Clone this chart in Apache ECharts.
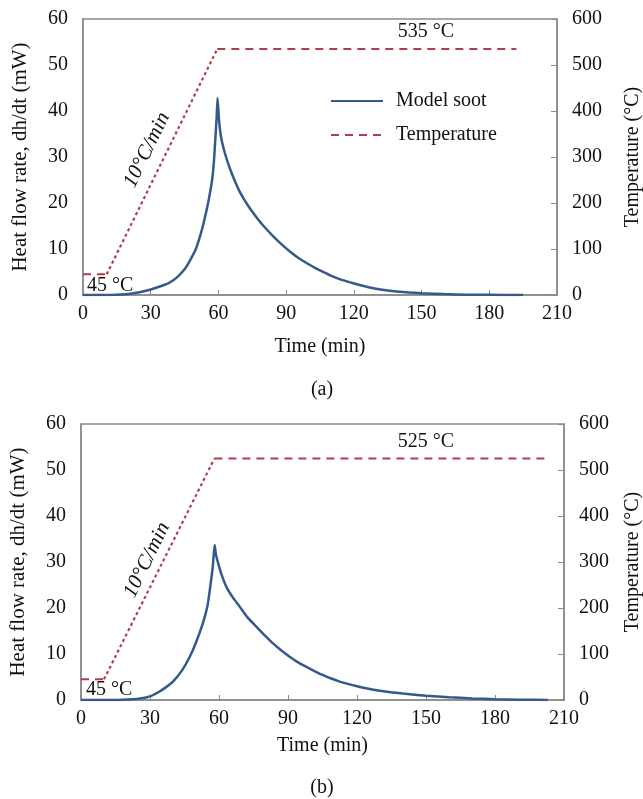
<!DOCTYPE html>
<html>
<head>
<meta charset="utf-8">
<script src="https://cdn.jsdelivr.net/npm/echarts@6/dist/echarts.min.js"></script>
<style>
  html, body { margin: 0; padding: 0; background: #fff; overflow: hidden; }
  #chart { width: 643px; height: 799px; }
</style>
</head>
<body>
<div id="chart"></div>
<script>
// (a) model soot heat flow
const sootTimeA = [0, 10, 15, 20, 25, 30, 35, 38, 40, 42, 45, 47.5, 50, 52, 53.4, 55, 56, 57.2, 58, 58.6, 59.2, 59.6, 60.2, 60.8, 61.5, 63, 65, 67, 69.6, 73, 77, 80, 84.4, 88, 91.8, 95, 99.2, 103, 106.6, 110, 114, 118, 121.4, 126, 131.8, 140, 150, 160, 170, 180, 190, 195]
const sootA = [0, 0, 0.05, 0.2, 0.6, 1.2, 2.0, 2.6, 3.2, 4.0, 5.6, 7.6, 10, 13, 15.6, 19, 21.5, 25, 29, 33.7, 38.5, 42.8, 38.5, 35.5, 33.5, 30.6, 27.6, 25.1, 22.3, 19.5, 16.8, 15.0, 12.7, 11.0, 9.4, 8.2, 6.9, 5.85, 4.95, 4.15, 3.4, 2.8, 2.33, 1.75, 1.2, 0.72, 0.4, 0.2, 0.08, 0.03, 0, 0]
// temperature programme: hold, ramp, hold
const holdTimeA = [0, 10.5]
const holdA = [45, 45]
const rampTimeA = [10.5, 59.5]
const rampA = [45, 535]
const topTimeA = [59.5, 192]
const topA = [535, 535]

// (b)
const sootTimeB = [0, 15, 20, 25, 30, 34, 37, 40, 44, 47.3, 50, 53, 55, 56, 57.3, 58.1, 58.7, 59.6, 61, 63.2, 66, 69, 72.5, 76.3, 80, 83.5, 87, 90.7, 94, 98, 101.5, 105, 108.5, 112.5, 116, 120, 125, 130, 140, 150, 160, 170, 180, 190, 203]
const sootB = [0, 0, 0.1, 0.25, 0.8, 1.8, 2.8, 4.0, 6.5, 9.4, 12.5, 16.7, 20.5, 23.9, 29, 33.7, 31.5, 29.8, 27.4, 24.6, 22.3, 20.3, 17.9, 15.9, 14, 12.3, 10.8, 9.4, 8.3, 7.2, 6.3, 5.45, 4.72, 4.0, 3.5, 3.0, 2.45, 2.0, 1.4, 0.95, 0.6, 0.35, 0.18, 0.08, 0]
const holdTimeB = [0, 10]
const holdB = [45, 45]
const rampTimeB = [10, 58]
const rampB = [45, 525]
const topTimeB = [58, 202]
const topB = [525, 525]

const font = 'Liberation Serif, Times New Roman, serif'
const blue = '#36598b'
const red = '#b23d4a'
const frame = '#8a8a8a'

const pairs = (xs, ys) => xs.map((x, i) => [x, ys[i]])

const chart = echarts.init(document.getElementById('chart'), null, { renderer: 'canvas' })

function xAxis(idx, gap) {
  return {
    gridIndex: idx, type: 'value', min: 0, max: 210, interval: 30,
    name: 'Time (min)', nameLocation: 'middle', nameGap: gap,
    nameTextStyle: { fontFamily: font, fontSize: 20, color: '#111' },
    axisLine: { lineStyle: { color: frame, width: 1.5 } },
    axisTick: { inside: true, length: 5, lineStyle: { color: frame } },
    axisLabel: { fontFamily: font, fontSize: 20, color: '#111', margin: 9 },
    splitLine: { show: false }
  }
}
function leftAxis(idx, gap) {
  return {
    gridIndex: idx, type: 'value', min: 0, max: 60, interval: 10,
    name: 'Heat flow rate, dh/dt (mW)', nameLocation: 'middle', nameGap: gap, nameRotate: 90,
    nameTextStyle: { fontFamily: font, fontSize: 21, color: '#111' },
    axisLine: { show: true, lineStyle: { color: frame, width: 1.5 } },
    axisTick: { show: false },
    axisLabel: { fontFamily: font, fontSize: 20, color: '#111', margin: 15 },
    splitLine: { show: false }
  }
}
function rightAxis(idx, gap) {
  return {
    gridIndex: idx, type: 'value', position: 'right', min: 0, max: 600, interval: 100,
    name: 'Temperature (°C)', nameLocation: 'middle', nameGap: gap, nameRotate: 90,
    nameTextStyle: { fontFamily: font, fontSize: 20, color: '#111' },
    axisLine: { show: true, lineStyle: { color: frame, width: 1.5 } },
    axisTick: { show: true, inside: true, length: 6, lineStyle: { color: frame } },
    axisLabel: { fontFamily: font, fontSize: 20, color: '#111', margin: 15 },
    splitLine: { show: false }
  }
}

const sootStyle = { color: blue, width: 2.5 }
const dashStyle = { color: red, width: 2, type: [8, 6] }
const dotStyle = { color: red, width: 2.2, type: [3, 3] }

function panel(g, soot, hold, ramp, top) {
  const base = { type: 'line', xAxisIndex: g, yAxisIndex: g * 2 + 1, symbol: 'none', itemStyle: { color: red }, z: 2 }
  return [
    { name: 'Model soot', type: 'line', xAxisIndex: g, yAxisIndex: g * 2, symbol: 'none', smooth: 0.2,
      lineStyle: sootStyle, itemStyle: { color: blue }, data: soot, z: 3 },
    Object.assign({ name: 'Temperature', lineStyle: dashStyle, data: hold }, base),
    Object.assign({ name: 'Temperature', lineStyle: dotStyle, data: ramp }, base),
    Object.assign({ name: 'Temperature', lineStyle: dashStyle, data: top }, base)
  ]
}

const txt = (x, y, text, extra) => ({
  type: 'text', x: x, y: y,
  style: Object.assign({ text: text, font: '20px ' + font, fill: '#111', textVerticalAlign: 'middle' }, extra || {})
})
const rate = (x, y) => ({
  type: 'text', x: x, y: y, rotation: 64 * Math.PI / 180,
  style: { text: '10°C/min', font: 'italic 21px ' + font, fill: '#111', textAlign: 'center', textVerticalAlign: 'middle' }
})

chart.setOption({
  backgroundColor: '#fff',
  animation: false,
  grid: [
    { left: 83, right: 86, top: 19, height: 276, outerBoundsMode: 'none', containLabel: false, show: true, borderColor: frame, borderWidth: 1.5, backgroundColor: 'transparent' },
    { left: 81, right: 79, top: 424, height: 276, outerBoundsMode: 'none', containLabel: false, show: true, borderColor: frame, borderWidth: 1.5, backgroundColor: 'transparent' }
  ],
  legend: {
    orient: 'vertical', left: 330, top: 91, padding: 0, itemWidth: 52, itemHeight: 14, itemGap: 14,
    data: ['Model soot', 'Temperature'],
    itemStyle: { opacity: 0 },
    textStyle: { fontFamily: font, fontSize: 20, color: '#111', padding: [0, 0, 0, 8] }
  },
  xAxis: [xAxis(0, 42), xAxis(1, 36)],
  yAxis: [leftAxis(0, 52), rightAxis(0, 66), leftAxis(1, 52), rightAxis(1, 59)],
  series: [].concat(
    panel(0, pairs(sootTimeA, sootA), pairs(holdTimeA, holdA), pairs(rampTimeA, rampA), pairs(topTimeA, topA)),
    panel(1, pairs(sootTimeB, sootB), pairs(holdTimeB, holdB), pairs(rampTimeB, rampB), pairs(topTimeB, topB))
  ),
  graphic: [
    txt(426, 32, '535 °C', { textAlign: 'center' }),
    txt(87, 286, '45 °C'),
    rate(147, 150),
    txt(322, 390, '(a)', { textAlign: 'center' }),
    txt(426, 442, '525 °C', { textAlign: 'center' }),
    txt(86, 690, '45 °C'),
    rate(147, 560),
    txt(322, 788, '(b)', { textAlign: 'center' })
  ]
})
</script>
</body>
</html>
